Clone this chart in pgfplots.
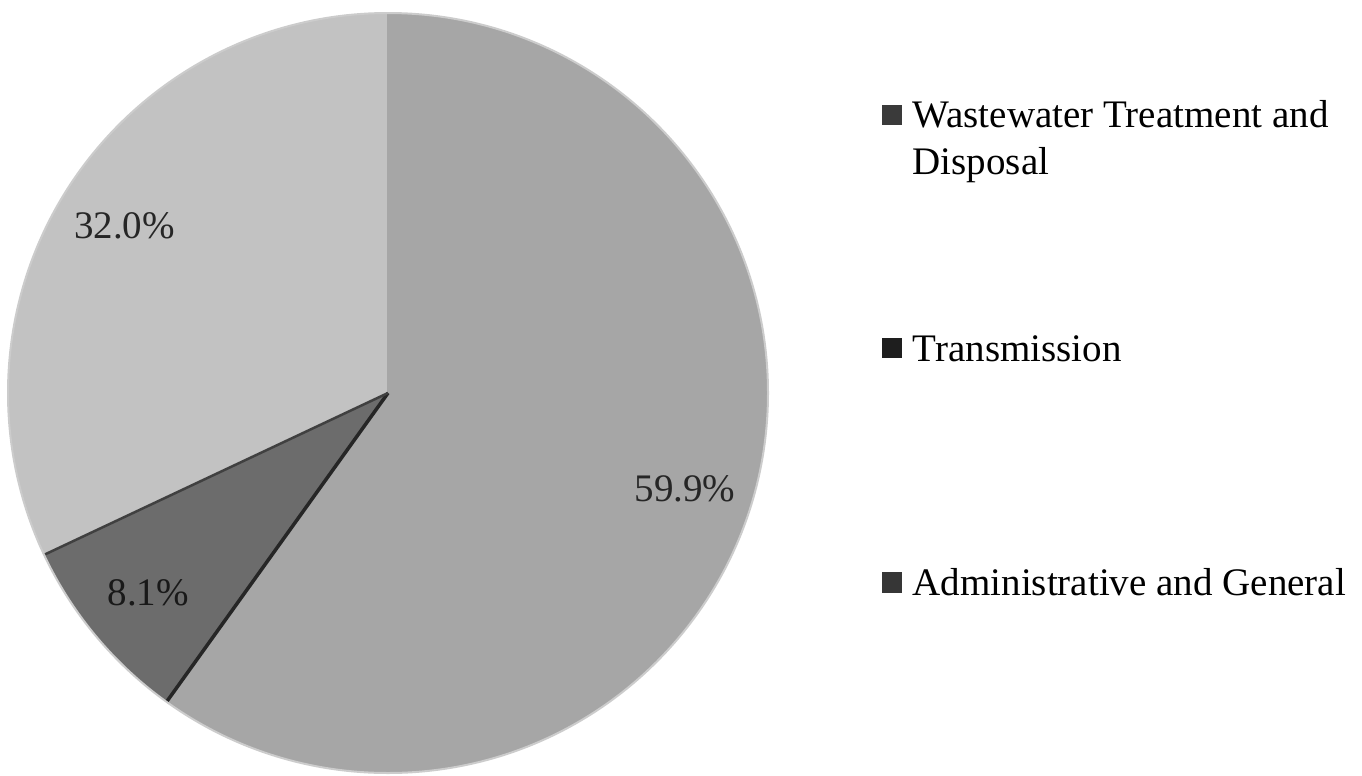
\documentclass[border=0pt]{standalone}
\usepackage{pgfplots}
\usepackage{pgfplotstable}
\pgfplotsset{compat=1.18}
\usetikzlibrary{calc}
\usepackage{fontspec}
\setmainfont{Liberation Serif}

\definecolor{sliceA}{HTML}{A6A6A6}
\definecolor{sliceB}{HTML}{6C6C6C}
\definecolor{sliceC}{HTML}{C2C2C2}
\definecolor{mkA}{HTML}{3A3A3A}
\definecolor{mkB}{HTML}{1E1E1E}
\definecolor{mkC}{HTML}{363636}

\pgfplotstableread{
share
59.9
8.1
32.0
}\shares

\pgfplotstablegetelem{0}{share}\of\shares \let\sA\pgfplotsretval
\pgfplotstablegetelem{1}{share}\of\shares \let\sB\pgfplotsretval
\pgfplotstablegetelem{2}{share}\of\shares \let\sC\pgfplotsretval
\pgfmathsetmacro\aA{90}
\pgfmathsetmacro\aB{\aA-3.6*\sA}
\pgfmathsetmacro\aC{\aB-3.6*\sB}
\pgfmathsetmacro\aD{\aC-3.6*\sC}
\pgfmathsetmacro\mA{(\aA+\aB)/2}
\pgfmathsetmacro\mB{(\aB+\aC)/2}
\pgfmathsetmacro\mC{(\aC+\aD)/2}

\newcommand\legfont{\fontsize{11.1}{13.4}\selectfont}
\newcommand\labfont{\fontsize{11.1}{13.4}\selectfont}

\begin{document}
\begin{tikzpicture}
\begin{axis}[x=0.1mm, y=0.1mm, xmin=0, xmax=1362, ymin=0, ymax=775,
  hide axis, clip=false, scale only axis]
  \coordinate (BL) at (axis cs:0,0);
  \coordinate (TR) at (axis cs:1362,775);
  % slices
  \fill[sliceA] (axis cs:388,382) -- ++(\aA:38mm) arc[start angle=\aA, end angle=\aB, radius=38mm] -- cycle;
  \fill[sliceB] (axis cs:388,382) -- ++(\aB:38mm) arc[start angle=\aB, end angle=\aC, radius=38mm] -- cycle;
  \fill[sliceC] (axis cs:388,382) -- ++(\aC:38mm) arc[start angle=\aC, end angle=\aD, radius=38mm] -- cycle;
  % separators
  \draw[black!35, line width=0.25mm] (axis cs:388,382) -- ++(\aA:38mm);
  \draw[black!85, line width=0.35mm] (axis cs:388,382) -- ++(\aB:38mm);
  \draw[black!75, line width=0.25mm] (axis cs:388,382) -- ++(\aC:38mm);
  \draw[black!20, line width=0.2mm] (axis cs:388,382) circle[radius=38mm];
  % labels
  \node[font=\labfont, text=black!85] at ($(axis cs:388,382)+(\mA:31.2mm)$) {\sA\%};
  \node[font=\labfont, text=black!90] at ($(axis cs:388,382)+(\mB:31.2mm)$) {\sB\%};
  \node[font=\labfont, text=black!85] at ($(axis cs:388,382)+(\mC:31.2mm)$) {\sC\%};
  % legend
  \fill[mkA] (axis cs:882,650) rectangle (axis cs:902,670);
  \fill[mkB] (axis cs:882,417) rectangle (axis cs:902,437);
  \fill[mkC] (axis cs:882,182) rectangle (axis cs:902,203);
  \node[anchor=base west, font=\legfont, inner sep=0pt] at (axis cs:912,648) {Wastewater Treatment and};
  \node[anchor=base west, font=\legfont, inner sep=0pt] at (axis cs:912,601) {Disposal};
  \node[anchor=base west, font=\legfont, inner sep=0pt] at (axis cs:912,414) {Transmission};
  \node[anchor=base west, font=\legfont, inner sep=0pt] at (axis cs:912,180) {Administrative and General};
\end{axis}
\pgfresetboundingbox
\useasboundingbox (BL) rectangle (TR);
\end{tikzpicture}
\end{document}
